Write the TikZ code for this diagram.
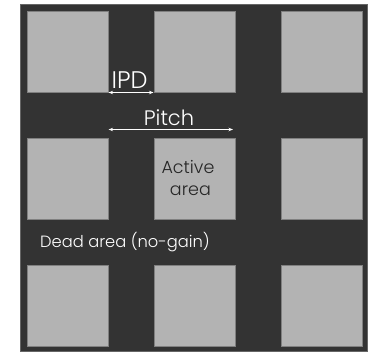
\documentclass[tikz,border=0pt]{standalone}
\usepackage{fontspec}
\setmainfont{Poppins Light}
\usetikzlibrary{arrows.meta,positioning}

\definecolor{deadgray}{HTML}{333333}
\definecolor{padgray}{HTML}{B3B3B3}
\definecolor{edgegray}{HTML}{808080}

\begin{document}
\begin{tikzpicture}[
    x=1pt, y=-1pt,
    pad/.style={rectangle, draw=edgegray, line width=0.6pt, fill=padgray, minimum width=81pt, minimum height=81pt, inner sep=0pt, anchor=north west},
    dim/.style={{Stealth[length=4.5pt,width=3.5pt]}-{Stealth[length=4.5pt,width=3.5pt]}, white, line width=0.9pt},
    lbl/.style={inner sep=0pt, anchor=base}
]
    \useasboundingbox (0,0) rectangle (369,353);
    \fill[white] (0,0) rectangle (369,353);
    \draw[draw=gray!80!black, fill=deadgray, line width=0.6pt] (20.5,4) rectangle (367,351);

    % pad matrix
    \foreach \c [count=\i] in {27,153.5,280.5}{
        \foreach \r [count=\j] in {11,137.5,264.5}{
            \node (p\j\i) [pad] at (\c,\r) {};
        }
    }

    % dimensions
    \coordinate (ipdrow) at (0,92.5);
    \coordinate (pitrow) at (0,129.5);
    \coordinate (ipdL) at (p11.east |- ipdrow);
    \coordinate (ipdR) at (p12.west |- ipdrow);
    \draw [dim] (ipdL) -- (ipdR);
    \node (ipd) [lbl, text=white, font=\fontsize{24}{26}\selectfont] at (129.5,88.5) {IPD};

    \coordinate (pitL) at (p11.east |- pitrow);
    \coordinate (pitR) at (233,129.5);
    \draw [dim] (pitL) -- (pitR);
    \node (pitch) [lbl, text=white, font=\fontsize{21}{23}\selectfont] at (169,125) {Pitch};

    \node (active) [inner sep=0pt, text=black!85, align=center, font=\fontsize{17.5}{22}\selectfont] at (188,178) {Active\\\ area};
    \node (dead) [lbl, anchor=base west, text=white, font=\fontsize{16.3}{18}\selectfont] at (40,247.5) {Dead area (no-gain)};
\end{tikzpicture}
\end{document}
